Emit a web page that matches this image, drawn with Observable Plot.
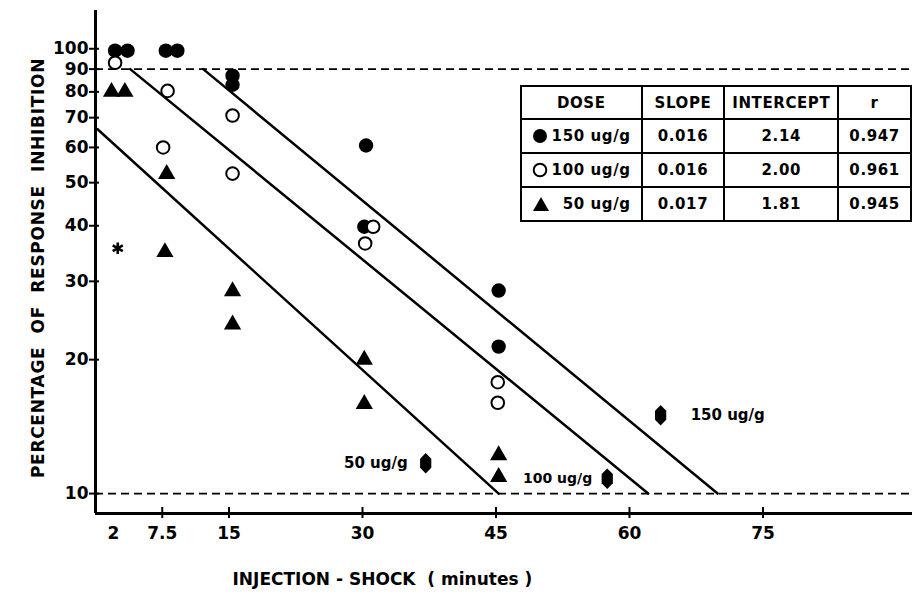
<!DOCTYPE html>
<html>
<head>
<meta charset="utf-8">
<script src="https://cdn.jsdelivr.net/npm/d3@7"></script>
<script src="https://cdn.jsdelivr.net/npm/@observablehq/plot@0.6"></script>
<style>
  html, body { margin: 0; padding: 0; background: #fff; }
  #wrap { position: relative; width: 912px; height: 594px; overflow: hidden; background: #fff; }
  svg text { white-space: pre; }
  #tbl { position: absolute; left: 520px; top: 85px; border-collapse: collapse;
         font-family: "DejaVu Sans", sans-serif; font-weight: bold; font-size: 15px; color: #000; }
  #tbl td, #tbl th { border: 2px solid #000; padding: 0; text-align: center; letter-spacing: 0.6px; }
  #tbl th { height: 31px; }
  #tbl td { height: 32px; }
  .dose { display: flex; align-items: center; justify-content: space-between; padding: 0 10px 0 10px !important; }
</style>
</head>
<body>
<div id="wrap"></div>
<script>
// ---- data ----
const yTicks = [10, 20, 30, 40, 50, 60, 70, 80, 90, 100];
const xTicks = [2, 7.5, 15, 30, 45, 60, 75];
const xTickMarks = [7.5, 15, 30, 45, 60, 75];
const refLevels = [10, 90];

const dose150X = [2.2, 3.6, 7.9, 9.2, 15.4, 15.4, 30.4, 30.2, 45.3, 45.3];
const dose150Y = [99, 99, 99, 99, 87, 83, 60.6, 39.8, 28.6, 21.4];
const dose100X = [2.2, 8.1, 7.6, 15.4, 15.4, 31.2, 30.3, 45.2, 45.2];
const dose100Y = [93, 80.4, 60, 70.8, 52.4, 39.8, 36.5, 17.8, 16.0];
const dose50X = [1.8, 3.3, 8.0, 7.8, 15.4, 15.4, 30.2, 30.2, 45.3, 45.3];
const dose50Y = [80, 80, 52.3, 34.9, 28.5, 24.0, 20.0, 15.9, 12.2, 10.9];
const starX = [2.5];
const starY = [35.6];

const fit150X = [12.1, 69.9];
const fit150Y = [90, 10];
const fit100X = [3.9, 62.1];
const fit100Y = [90, 10];
const fit50X = [0.2, 45.3];
const fit50Y = [66, 10];

const annLabels = ["50 ug/g", "100 ug/g", "150 ug/g"];
const annX = [37.1, 57.5, 63.5];
const annY = [11.7, 10.8, 15.0];

const tableHeaders = ["DOSE", "SLOPE", "INTERCEPT", "r"];
const tableDoses = ["150 ug/g", "100 ug/g", "50 ug/g"];
const tableSlopes = ["0.016", "0.016", "0.017"];
const tableIntercepts = ["2.14", "2.00", "1.81"];
const tableR = ["0.947", "0.961", "0.945"];

const yTitle = "PERCENTAGE  OF  RESPONSE  INHIBITION";
const xTitle = "INJECTION - SHOCK  ( minutes )";

// ---- build tables for marks ----
const zip = (xs, ys) => xs.map((x, i) => ({x, y: ys[i]}));
const pts150 = zip(dose150X, dose150Y);
const pts100 = zip(dose100X, dose100Y);
const pts50 = zip(dose50X, dose50Y);
const star = zip(starX, starY);
const fits = [
  ...zip(fit150X, fit150Y).map(d => ({...d, dose: "150"})),
  ...zip(fit100X, fit100Y).map(d => ({...d, dose: "100"})),
  ...zip(fit50X, fit50Y).map(d => ({...d, dose: "50"}))
];
const ann = annLabels.map((label, i) => ({label, x: annX[i], y: annY[i]}));

const lens = {
  draw(ctx, size) {
    const r = Math.sqrt(size / Math.PI);
    const h = r * 1.55, w = r * 0.85;
    ctx.moveTo(0, -h);
    ctx.lineTo(w, -h * 0.45);
    ctx.lineTo(w, h * 0.45);
    ctx.lineTo(0, h);
    ctx.lineTo(-w, h * 0.45);
    ctx.lineTo(-w, -h * 0.45);
    ctx.closePath();
  }
};

const font = "DejaVu Sans";
const chart = Plot.plot({
  width: 912,
  height: 594,
  marginLeft: 95,
  marginRight: 0,
  marginTop: 10,
  marginBottom: 81,
  x: {domain: [0, 91.8]},
  y: {type: "log", domain: [9.02, 121.9]},
  style: {fontFamily: font, fontWeight: "bold", fontSize: "17px", background: "white", color: "black"},
  marks: [
    Plot.axisY({ticks: yTicks, tickSize: 6, tickPadding: 1, tickFormat: d => String(d), label: null, fontSize: 17, strokeWidth: 2}),
    Plot.ruleY(yTicks, {insetRight: 813, strokeWidth: 2}),
    Plot.axisX({ticks: xTicks, tickSize: 0, tickPadding: 13, tickFormat: d => String(d), label: null, fontSize: 17}),
    Plot.ruleX(xTickMarks, {insetTop: 497, insetBottom: -5, strokeWidth: 2}),
    Plot.ruleY(refLevels, {strokeDasharray: "8,5", strokeWidth: 1.8}),
    Plot.ruleX([0], {strokeWidth: 3}),
    Plot.ruleY([9.02], {strokeWidth: 3}),
    Plot.line(fits, {x: "x", y: "y", z: "dose", stroke: "black", strokeWidth: 2.5}),
    Plot.dot(pts150, {x: "x", y: "y", r: 7.2, fill: "black", stroke: "none"}),
    Plot.dot(pts100, {x: "x", y: "y", r: 6.3, fill: "white", stroke: "black", strokeWidth: 2}),
    Plot.dot(pts50, {x: "x", y: "y", r: 6.4, symbol: "triangle", fill: "black", stroke: "none"}),
    Plot.dot(star, {x: "x", y: "y", r: 5.5, symbol: "asterisk", stroke: "black", strokeWidth: 2.6}),
    Plot.dot(ann, {x: "x", y: "y", r: 6.6, symbol: lens, fill: "black", stroke: "none"}),
    Plot.text(ann.slice(0, 1), {x: "x", y: "y", text: "label", textAnchor: "end", dx: -18, fontSize: 15, fontWeight: "bold"}),
    Plot.text(ann.slice(1, 2), {x: "x", y: "y", text: "label", textAnchor: "end", dx: -15, fontSize: 14, fontWeight: "bold"}),
    Plot.text(ann.slice(2, 3), {x: "x", y: "y", text: "label", textAnchor: "start", dx: 30, fontSize: 15, fontWeight: "bold"}),
    Plot.text([yTitle], {frameAnchor: "left", textAnchor: "middle", dx: -57, dy: 6, rotate: -90, fontSize: 17, fontWeight: "bold"}),
    Plot.text([xTitle], {frameAnchor: "bottom-left", textAnchor: "start", dx: 137, dy: 71, fontSize: 17, fontWeight: "bold"})
  ]
});
const wrap = document.getElementById("wrap");
wrap.appendChild(chart);
chart.querySelectorAll("text").forEach(t => { if ((t.textContent || "").startsWith("PERCENTAGE")) t.style.letterSpacing = "0.7px"; });

// ---- table ----
const symSvg = [
  '<svg width="16" height="16"><circle cx="8" cy="8" r="7" fill="black"/></svg>',
  '<svg width="16" height="16"><circle cx="8" cy="8" r="6.3" fill="white" stroke="black" stroke-width="2"/></svg>',
  '<svg width="18" height="16"><path d="M9,1 L17,15 L1,15 Z" fill="black"/></svg>'
];
const colW = [121, 83, 114, 73];
let html = '<table id="tbl"><tr>' + tableHeaders.map((h, i) => `<th style="width:${colW[i]-2}px">${h}</th>`).join("") + '</tr>';
tableDoses.forEach((d, i) => {
  html += `<tr><td><div class="dose">${symSvg[i]}<span>${d}</span></div></td><td>${tableSlopes[i]}</td><td>${tableIntercepts[i]}</td><td>${tableR[i]}</td></tr>`;
});
html += '</table>';
wrap.insertAdjacentHTML("beforeend", html);
</script>
</body>
</html>
